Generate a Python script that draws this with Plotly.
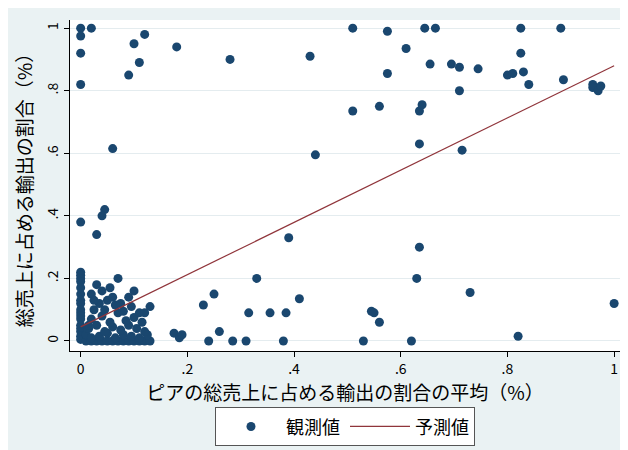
import plotly.graph_objects as go

obs_x = [0,0,0.02,0,0,0.1,0.12,0.11,0.09,0.06,0.18,0.28,0.43,0.44,0.51,0.56,0.575,0.61,0.635,0.64,0.635,0.655,0.695,0.71,0.71,0.715,0.745,0.80,0.81,0.825,0.83,0.84,0.905,0.96,0.96,0.97,0.975,
         0.51,0.575,0.645,0.665,0.825,0.90,
         0,0.045,0.04,0.03,0.39,0.33,0.25,0.23,0.41,0.635,0.63,0.73,1.0,0.545,0.55,0.56,0.53,0.62,0.82,0.315,0.355,0.385,0.38,0.31,0.285,0.26,0.24,0.175,0.185,0.19,
         0,0,0,0,0,0,0,0,0,0,0,0,0,0,0,0,0,
         0.01,0.02,0.03,0.04,0.05,0.06,0.07,0.08,0.09,0.10,0.11,0.12,0.13,
         0.01,0.02,0.035,0.05,0.065,0.08,0.095,0.11,0.125,
         0.015,0.03,0.045,0.06,0.075,0.09,0.105,0.12,
         0.02,0.04,0.055,0.07,0.085,0.1,0.115,0.13,
         0.025,0.035,0.05,0.065,0.08,0.095,0.11,
         0.03,0.055,0.07,0.09,0.1,0.02,0.06,0.04,0.12,0.075,0.015,0.045,0.025]
obs_y = [1.0,0.975,1.0,0.92,0.82,0.95,0.98,0.89,0.85,0.615,0.94,0.90,0.91,0.595,0.735,0.75,0.855,0.935,0.735,0.755,0.63,0.885,0.885,0.875,0.80,0.61,0.87,0.85,0.855,0.92,0.86,0.82,0.835,0.82,0.81,0.80,0.815,
         1.0,0.99,1.0,1.0,1.0,1.0,
         0.38,0.42,0.40,0.34,0.33,0.2,0.15,0.115,0.135,0.30,0.2,0.155,0.12,0.095,0.09,0.06,0.0,0.0,0.015,0.09,0.09,0.09,0.0,0.0,0.0,0.03,0.0,0.025,0.01,0.02,
         0.22,0.21,0.2,0.19,0.17,0.15,0.13,0.12,0.1,0.09,0.08,0.07,0.05,0.04,0.03,0.015,0.005,
         0.0,0.0,0.0,0.0,0.0,0.0,0.0,0.0,0.0,0.0,0.0,0.0,0.0,
         0.02,0.01,0.015,0.025,0.01,0.02,0.015,0.01,0.02,
         0.04,0.05,0.03,0.045,0.035,0.05,0.04,0.03,
         0.07,0.08,0.06,0.09,0.065,0.075,0.06,0.11,
         0.1,0.12,0.13,0.115,0.095,0.11,0.09,
         0.18,0.17,0.2,0.14,0.16,0.15,0.14,0.16,0.09,0.12,0.05,0.1,0.13]
fit_x = [0, 1]
fit_y = [0.045, 0.88]
xticks = [0, 0.2, 0.4, 0.6, 0.8, 1]
xlabels = ["0", ".2", ".4", ".6", ".8", "1"]

navy = "#1a476f"
fig = go.Figure()
fig.add_trace(go.Scatter(x=obs_x, y=obs_y, mode="markers", name="観測値",
                         marker=dict(color=navy, size=9, line=dict(width=0))))
fig.add_trace(go.Scatter(x=fit_x, y=fit_y, mode="lines", name="予測値",
                         line=dict(color="#90353b", width=1.2)))
fnt = "Noto Sans CJK JP"
ax = dict(showline=True, linecolor="black", linewidth=1, ticks="outside", ticklen=5,
          tickcolor="black", gridcolor="#e4ecef", zeroline=False, tickvals=xticks,
          ticktext=xlabels, tickfont=dict(size=14, color="black"), automargin=False)
fig.update_layout(
    width=628, height=450, paper_bgcolor="#eaf2f3", plot_bgcolor="white",
    font=dict(family=fnt, color="black"),
    margin=dict(l=62, r=16, t=12, b=107, autoexpand=False),
    xaxis=dict(ax, range=[-0.02, 1.011], showgrid=False,
               title=dict(text="ピアの総売上に占める輸出の割合の平均（%）", font=dict(size=19), standoff=6)),
    yaxis=dict(ax, range=[-0.032, 1.026], tickangle=-90,
               title=dict(text="総売上に占める輸出の割合（%）", font=dict(size=19), standoff=4)),
    legend=dict(orientation="h", x=0.5, xanchor="center", y=-0.17, yanchor="top",
                bgcolor="white", bordercolor="#555", borderwidth=1,
                font=dict(size=18), itemwidth=60, traceorder="normal"),
)
fig.write_html("out.html")
